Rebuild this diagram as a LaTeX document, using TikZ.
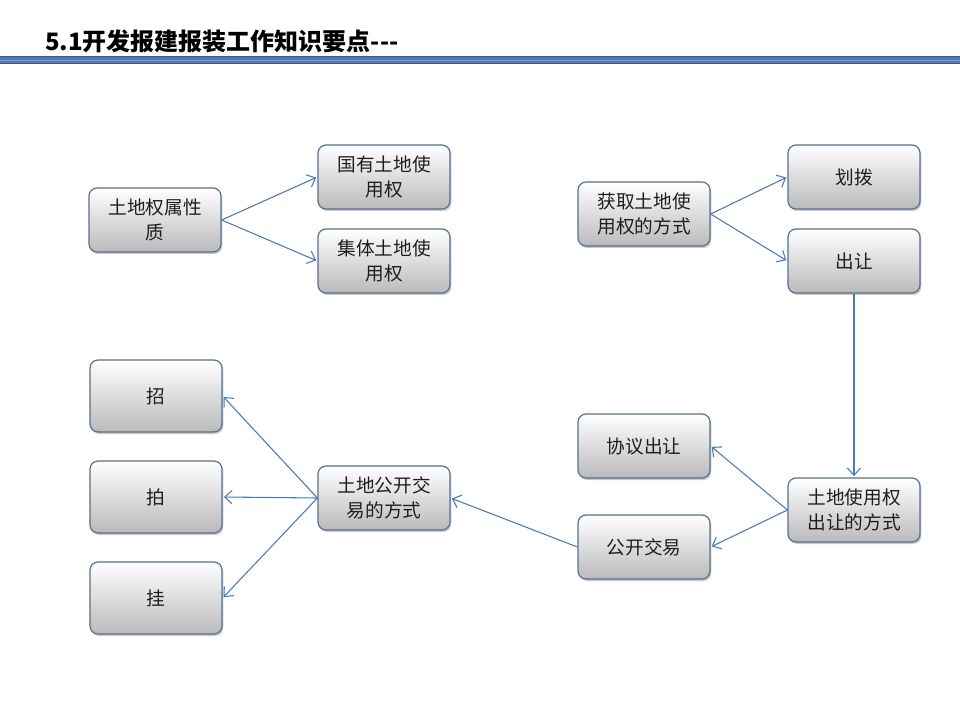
\documentclass[tikz,border=0pt]{standalone}
\usepackage{fontspec}
\newfontfamily\cjk{Noto Sans CJK SC}
\usetikzlibrary{arrows.meta,shadows}
\definecolor{boxline}{HTML}{56708F}
\definecolor{arrowc}{HTML}{4A7AB5}
\definecolor{bardark}{HTML}{3A5A85}
\definecolor{barmid}{HTML}{5479AE}
\definecolor{barlight}{HTML}{7D9FCB}
\definecolor{txt}{HTML}{1E1E1E}
\tikzset{
  box/.style={draw=boxline, line width=0.9pt, rounded corners=6pt,
    top color=white, bottom color=black!27, text=txt,
    minimum width=99pt, minimum height=48pt, align=center, inner sep=2pt,
    font=\cjk\fontsize{14}{18.5}\selectfont,
    drop shadow={shadow xshift=1pt, shadow yshift=-1.5pt, opacity=0.35, fill=black!60}},
  tallbox/.style={box, minimum height=54pt},
  conn/.style={draw=arrowc, line width=0.8pt, -{Straight Barb[length=5.5pt,width=10pt,line width=0.8pt]}, shorten >=1pt}
}
\begin{document}
\begin{tikzpicture}[x=0.75pt,y=-0.75pt]
\useasboundingbox (0,0) rectangle (960,720);
% title
\node[anchor=west, inner sep=0pt, text=black, font=\cjk\bfseries\fontsize{18}{20}\selectfont] (title) at (45,41) {5.1开发报建报装工作知识要点---};
% bar
\fill[bardark] (0,56) rectangle (960,64.5);
\fill[barmid] (0,57.5) rectangle (960,63);
\fill[barlight] (0,59.8) rectangle (960,60.8);
% boxes
\node[box] (shuxing) at (155,220) {土地权属性\\质};
\node[box] (guoyou) at (384,177) {国有土地使\\用权};
\node[box] (jiti) at (384,261) {集体土地使\\用权};
\node[box] (huoqu) at (644,214) {获取土地使\\用权的方式};
\node[box] (huabo) at (854,177) {划拨};
\node[box] (churang) at (854,261) {出让};
\node[tallbox] (zhao) at (156,396) {招};
\node[tallbox] (pai) at (156,497) {拍};
\node[tallbox] (gua) at (156,598) {挂};
\node[box] (gongkaifs) at (384,498) {土地公开交\\易的方式};
\node[box] (xieyi) at (644,446) {协议出让};
\node[box] (gongkai) at (644,547) {公开交易};
\node[box] (churangfs) at (854,510) {土地使用权\\出让的方式};
% connectors
\draw[conn] (shuxing.east) -- (guoyou.west);
\draw[conn] (shuxing.east) -- (jiti.west);
\draw[conn] (huoqu.east) -- (huabo.west);
\draw[conn] (huoqu.east) -- (churang.west);
\draw[conn] (churang.south) -- (churangfs.north);
\draw[conn] (churangfs.west) -- (xieyi.east);
\draw[conn] (churangfs.west) -- (gongkai.east);
\draw[conn] (gongkai.west) -- (gongkaifs.east);
\draw[conn] (gongkaifs.west) -- (zhao.east);
\draw[conn] (gongkaifs.west) -- (pai.east);
\draw[conn] (gongkaifs.west) -- (gua.east);
\end{tikzpicture}
\end{document}
